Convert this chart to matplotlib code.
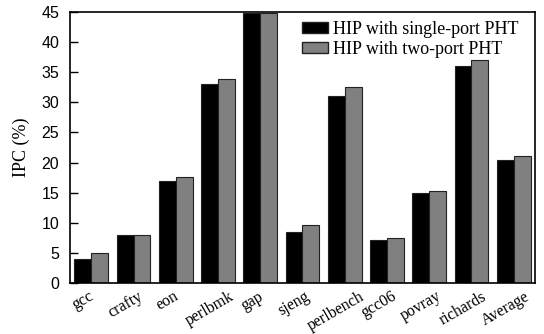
import matplotlib
matplotlib.use("Agg")
import matplotlib.pyplot as plt
from matplotlib.patches import Patch
import numpy as np

categories = ["gcc", "crafty", "eon", "perlbmk", "gap", "sjeng", "perlbench",
              "gcc06", "povray", "richards", "Average"]
single_port = [3.9, 7.9, 17.0, 33.0, 44.8, 8.4, 31.1, 7.1, 14.9, 36.0, 20.4]
two_port = [4.9, 8.0, 17.6, 33.8, 44.8, 9.6, 32.5, 7.5, 15.2, 37.1, 21.0]
yticks = [0, 5, 10, 15, 20, 25, 30, 35, 40, 45]

fig = plt.figure(figsize=(5.44, 3.34), dpi=100)
ax = fig.add_axes([0.129, 0.153, 0.854, 0.811])

x = np.arange(len(categories))
w = 0.4
ax.bar(x - w / 2, single_port, w, color="black", edgecolor="#222222", linewidth=0.8)
ax.bar(x + w / 2, two_port, w, color="#808080", edgecolor="#222222", linewidth=0.8)

ax.set_xlim(-0.5, len(categories) - 0.5)
ax.set_ylim(0, 45)
ax.set_yticks(yticks)
ax.set_yticklabels([str(t) for t in yticks], family="Liberation Sans", fontsize=11.5)
ax.tick_params(axis="y", direction="in", length=6, width=1, pad=8)
ax.set_xticks(x - 0.2)
ax.set_xticklabels(categories, family="Liberation Serif", fontsize=11.5,
                   rotation=30, ha="center", va="top")
ax.tick_params(axis="x", length=0, pad=4)
ax.set_ylabel("IPC (%)", family="Liberation Serif", fontsize=13, labelpad=8)
for s in ax.spines.values():
    s.set_linewidth(1.2)

handles = [Patch(facecolor="black", edgecolor="#222222"),
           Patch(facecolor="#808080", edgecolor="#222222")]
ax.legend(handles, ["HIP with single-port PHT", "HIP with two-port PHT"],
          loc="upper right", frameon=False, prop={"family": "Liberation Serif", "size": 13},
          handlelength=1.45, handleheight=0.55, handletextpad=0.3, labelspacing=0.15,
          borderaxespad=0.1, bbox_to_anchor=(0.985, 1.0))

fig.savefig("out.png", dpi=100)
